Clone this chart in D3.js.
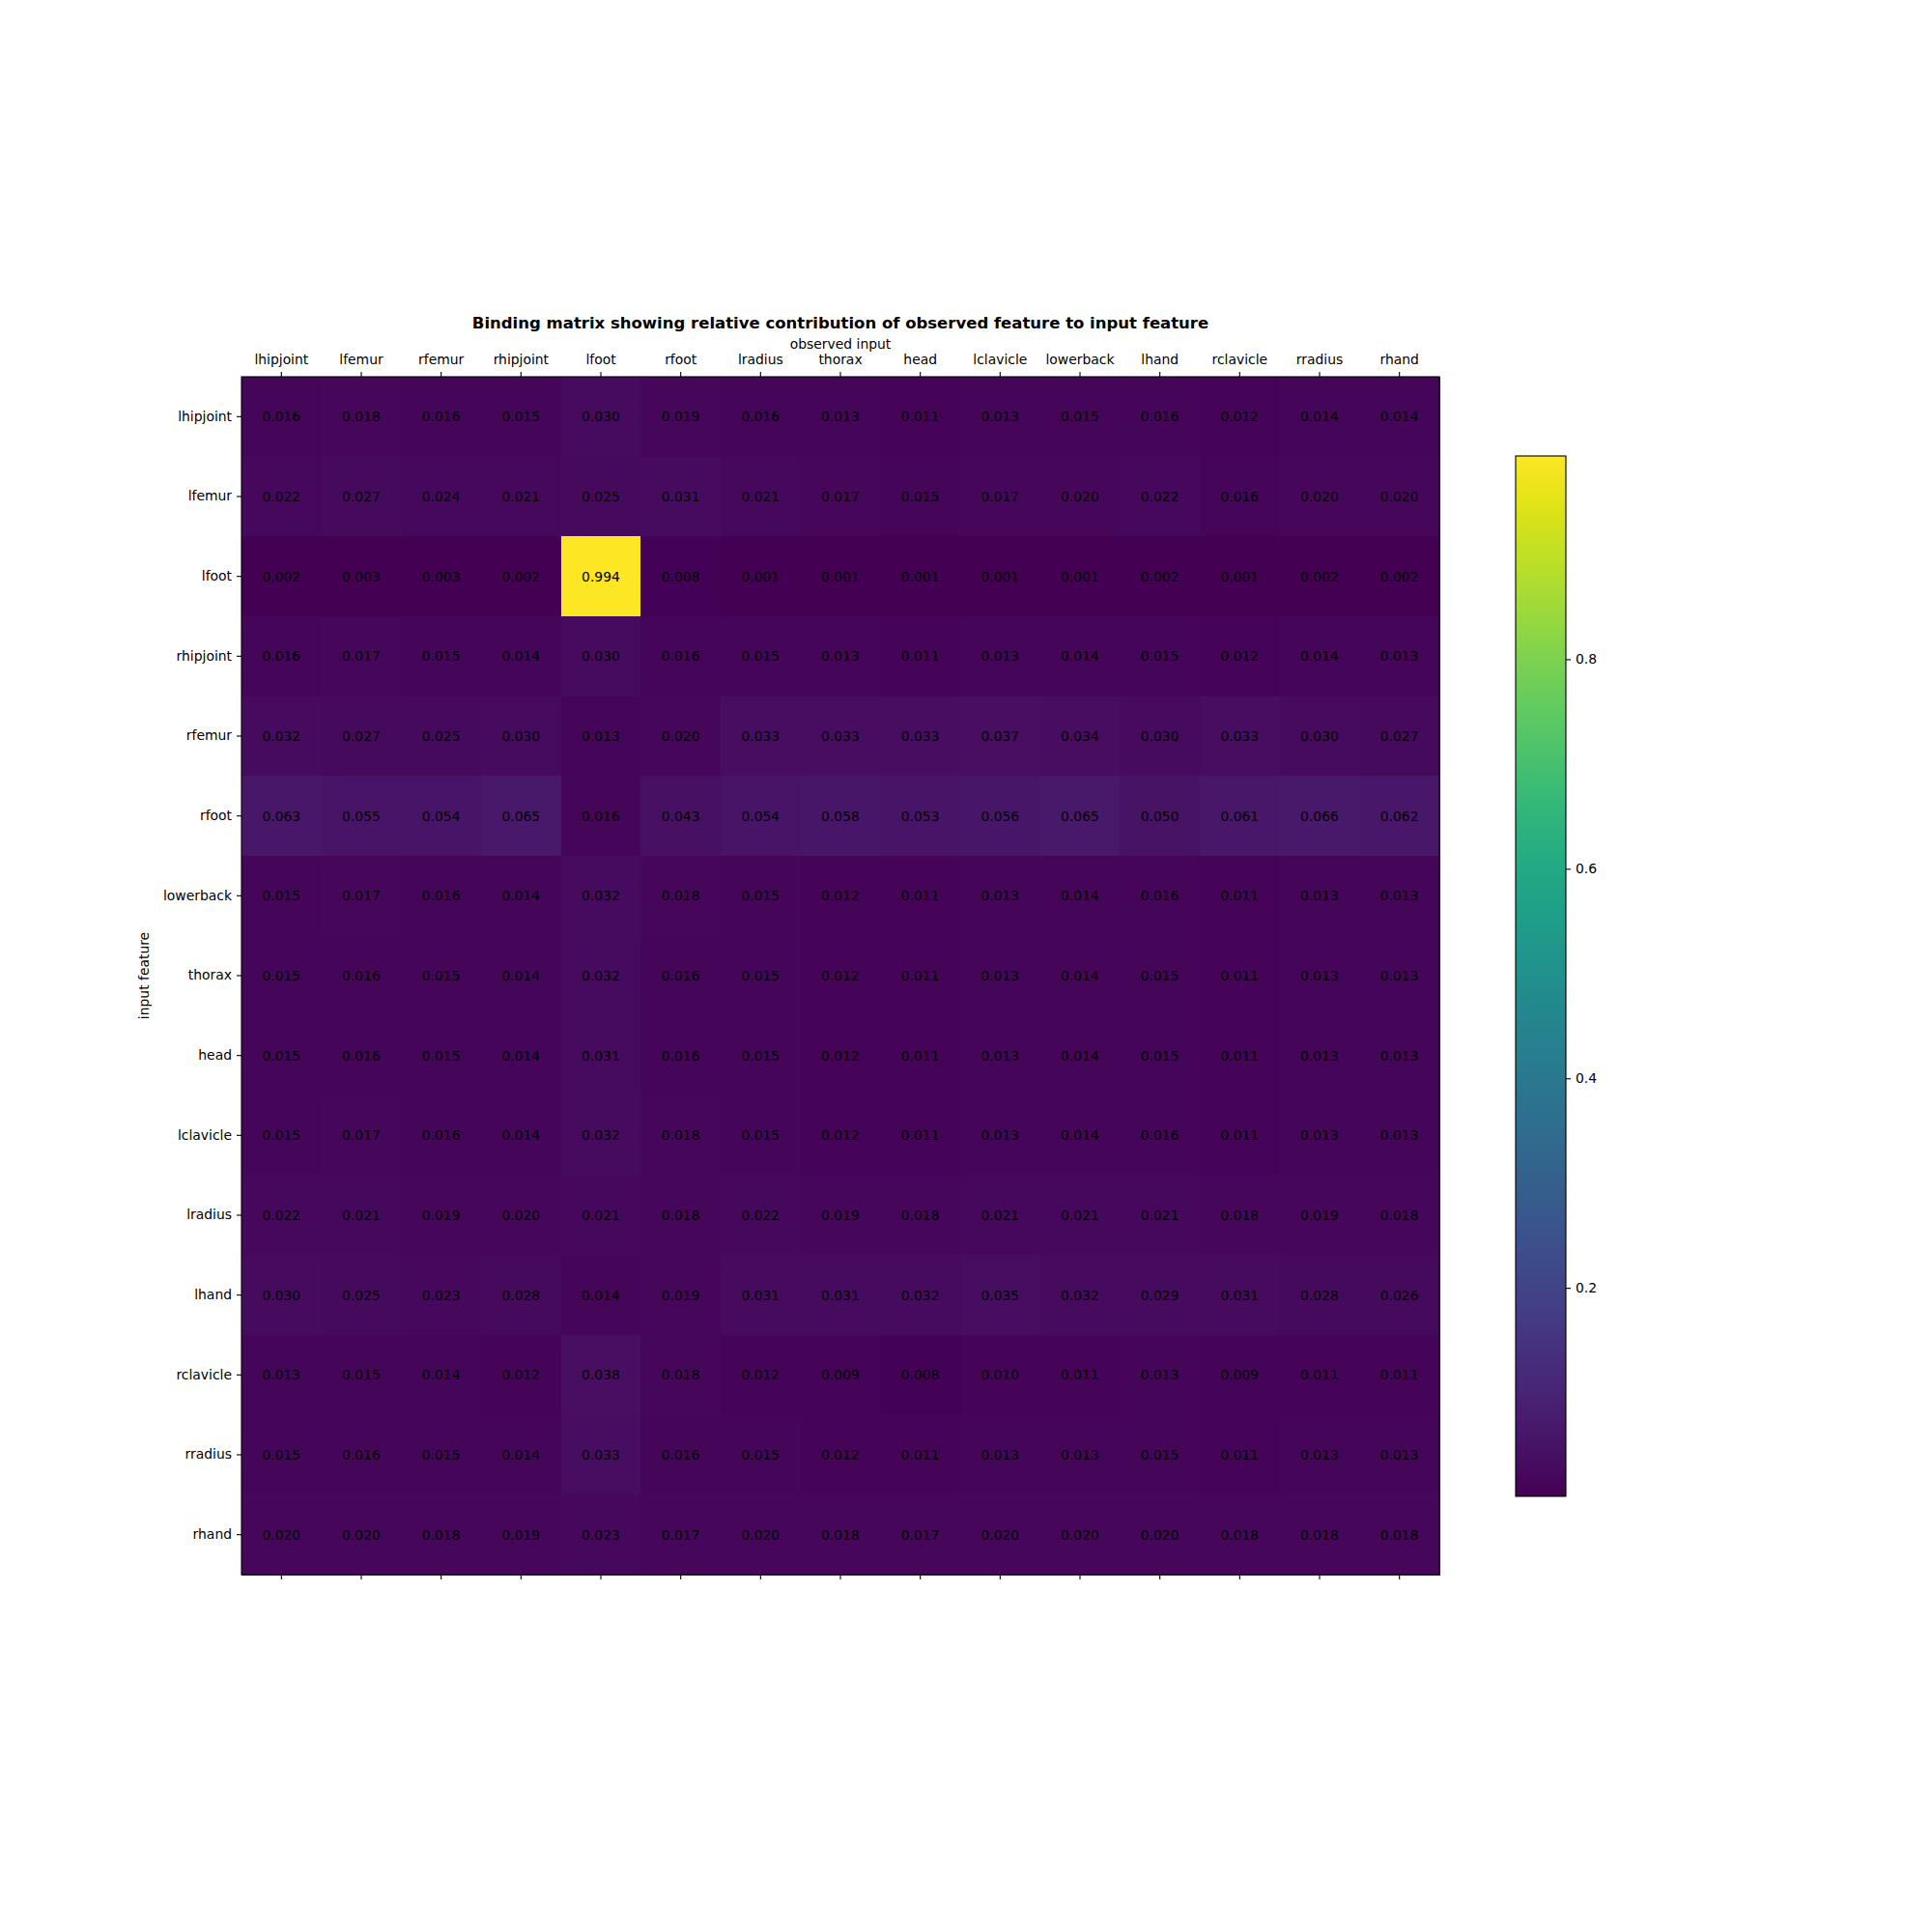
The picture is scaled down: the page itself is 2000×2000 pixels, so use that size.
<!DOCTYPE html>
<html>
<head>
<meta charset="utf-8">
<script src="https://cdn.jsdelivr.net/npm/d3@7"></script>
<style>
  body { margin: 0; background: #fff; }
  svg text { font-family: "DejaVu Sans", sans-serif; }
</style>
</head>
<body>
<svg></svg>
<script>
// observed features (columns) and input features (rows)
var observed = ["lhipjoint", "lfemur", "rfemur", "rhipjoint", "lfoot", "rfoot", "lradius",
                "thorax", "head", "lclavicle", "lowerback", "lhand", "rclavicle", "rradius", "rhand"];
var inputs = ["lhipjoint", "lfemur", "lfoot", "rhipjoint", "rfemur", "rfoot", "lowerback",
              "thorax", "head", "lclavicle", "lradius", "lhand", "rclavicle", "rradius", "rhand"];

// one row per input feature
var rowLhipjoint = [0.016, 0.018, 0.016, 0.015, 0.030, 0.019, 0.016, 0.013, 0.011, 0.013, 0.015, 0.016, 0.012, 0.014, 0.014];
var rowLfemur    = [0.022, 0.027, 0.024, 0.021, 0.025, 0.031, 0.021, 0.017, 0.015, 0.017, 0.020, 0.022, 0.016, 0.020, 0.020];
var rowLfoot     = [0.002, 0.003, 0.003, 0.002, 0.994, 0.008, 0.001, 0.001, 0.001, 0.001, 0.001, 0.002, 0.001, 0.002, 0.002];
var rowRhipjoint = [0.016, 0.017, 0.015, 0.014, 0.030, 0.016, 0.015, 0.013, 0.011, 0.013, 0.014, 0.015, 0.012, 0.014, 0.013];
var rowRfemur    = [0.032, 0.027, 0.025, 0.030, 0.013, 0.020, 0.033, 0.033, 0.033, 0.037, 0.034, 0.030, 0.033, 0.030, 0.027];
var rowRfoot     = [0.063, 0.055, 0.054, 0.065, 0.016, 0.043, 0.054, 0.058, 0.053, 0.056, 0.065, 0.050, 0.061, 0.066, 0.062];
var rowLowerback = [0.015, 0.017, 0.016, 0.014, 0.032, 0.018, 0.015, 0.012, 0.011, 0.013, 0.014, 0.016, 0.011, 0.013, 0.013];
var rowThorax    = [0.015, 0.016, 0.015, 0.014, 0.032, 0.016, 0.015, 0.012, 0.011, 0.013, 0.014, 0.015, 0.011, 0.013, 0.013];
var rowHead      = [0.015, 0.016, 0.015, 0.014, 0.031, 0.016, 0.015, 0.012, 0.011, 0.013, 0.014, 0.015, 0.011, 0.013, 0.013];
var rowLclavicle = [0.015, 0.017, 0.016, 0.014, 0.032, 0.018, 0.015, 0.012, 0.011, 0.013, 0.014, 0.016, 0.011, 0.013, 0.013];
var rowLradius   = [0.022, 0.021, 0.019, 0.020, 0.021, 0.018, 0.022, 0.019, 0.018, 0.021, 0.021, 0.021, 0.018, 0.019, 0.018];
var rowLhand     = [0.030, 0.025, 0.023, 0.028, 0.014, 0.019, 0.031, 0.031, 0.032, 0.035, 0.032, 0.029, 0.031, 0.028, 0.026];
var rowRclavicle = [0.013, 0.015, 0.014, 0.012, 0.038, 0.018, 0.012, 0.009, 0.008, 0.010, 0.011, 0.013, 0.009, 0.011, 0.011];
var rowRradius   = [0.015, 0.016, 0.015, 0.014, 0.033, 0.016, 0.015, 0.012, 0.011, 0.013, 0.013, 0.015, 0.011, 0.013, 0.013];
var rowRhand     = [0.020, 0.020, 0.018, 0.019, 0.023, 0.017, 0.020, 0.018, 0.017, 0.020, 0.020, 0.020, 0.018, 0.018, 0.018];

var colorbarTicks = [0.2, 0.4, 0.6, 0.8];

var matrix = [rowLhipjoint, rowLfemur, rowLfoot, rowRhipjoint, rowRfemur, rowRfoot, rowLowerback,
              rowThorax, rowHead, rowLclavicle, rowLradius, rowLhand, rowRclavicle, rowRradius, rowRhand];

var cells = [];
matrix.forEach(function(row, i) {
  row.forEach(function(v, j) {
    cells.push({row: inputs[i], col: observed[j], value: v});
  });
});

var svg = d3.select("svg").attr("width", 2000).attr("height", 2000),
    margin = {top: 390, left: 250},
    size = 1240;

var g = svg.append("g")
    .attr("transform", "translate(" + margin.left + "," + margin.top + ")");

var x = d3.scaleBand().domain(observed).range([0, size]);
var y = d3.scaleBand().domain(inputs).range([0, size]);

var vmin = d3.min(cells, function(d) { return d.value; }),
    vmax = d3.max(cells, function(d) { return d.value; });
var color = d3.scaleSequential(d3.interpolateViridis).domain([vmin, vmax]);

// cells
g.selectAll(".cell")
    .data(cells)
  .enter().append("rect")
    .attr("class", "cell")
    .attr("x", function(d) { return x(d.col); })
    .attr("y", function(d) { return y(d.row); })
    .attr("width", x.bandwidth() + 1)
    .attr("height", y.bandwidth() + 1)
    .attr("shape-rendering", "crispEdges")
    .attr("fill", function(d) { return color(d.value); });

// cell labels
g.selectAll(".val")
    .data(cells)
  .enter().append("text")
    .attr("class", "val")
    .attr("x", function(d) { return x(d.col) + x.bandwidth() / 2; })
    .attr("y", function(d) { return y(d.row) + y.bandwidth() / 2; })
    .attr("dy", "0.35em")
    .attr("text-anchor", "middle")
    .style("font-size", "13.9px")
    .attr("fill", "#000")
    .text(function(d) { return d.value.toFixed(3); });

// frame
g.append("rect")
    .attr("width", size).attr("height", size)
    .attr("fill", "none").attr("stroke", "#000").attr("stroke-width", 1.1);

// axes
function styleAxis(sel) {
  sel.select(".domain").remove();
  sel.selectAll("text").style("font-size", "13.9px").attr("fill", "#000");
  sel.selectAll("line").attr("stroke", "#000").attr("stroke-width", 1.1);
}

g.append("g")
    .call(d3.axisTop(x).tickSize(5).tickPadding(8))
    .call(styleAxis);

g.append("g")
    .attr("transform", "translate(0," + size + ")")
    .call(d3.axisBottom(x).tickSize(5).tickFormat(""))
    .call(styleAxis);

g.append("g")
    .call(d3.axisLeft(y).tickSize(5).tickPadding(5))
    .call(styleAxis);

// labels
g.append("text")
    .attr("x", size / 2).attr("y", -29)
    .attr("text-anchor", "middle")
    .style("font-size", "13.9px")
    .text("observed input");

g.append("text")
    .attr("x", size / 2).attr("y", -50)
    .attr("text-anchor", "middle")
    .style("font-size", "16.5px")
    .style("font-weight", "bold")
    .text("Binding matrix showing relative contribution of observed feature to input feature");

g.append("text")
    .attr("transform", "translate(-96," + (size / 2) + ") rotate(-90)")
    .attr("text-anchor", "middle")
    .style("font-size", "13.9px")
    .text("input feature");

// colorbar
var cb = {x: 1569, y: 472, w: 52, h: 1077};
var cbScale = d3.scaleLinear().domain([vmin, vmax]).range([cb.y + cb.h, cb.y]);

var grad = svg.append("defs").append("linearGradient")
    .attr("id", "viridis")
    .attr("x1", 0).attr("y1", 1).attr("x2", 0).attr("y2", 0);
d3.range(0, 1.0001, 0.02).forEach(function(t) {
  grad.append("stop")
      .attr("offset", t)
      .attr("stop-color", d3.interpolateViridis(t));
});

svg.append("rect")
    .attr("x", cb.x).attr("y", cb.y)
    .attr("width", cb.w).attr("height", cb.h)
    .attr("fill", "url(#viridis)")
    .attr("stroke", "#000").attr("stroke-width", 1.1);

svg.append("g")
    .attr("transform", "translate(" + (cb.x + cb.w) + ",0)")
    .call(d3.axisRight(cbScale).tickValues(colorbarTicks).tickFormat(d3.format(".1f")).tickSize(5).tickPadding(5))
    .call(styleAxis);
</script>
</body>
</html>
